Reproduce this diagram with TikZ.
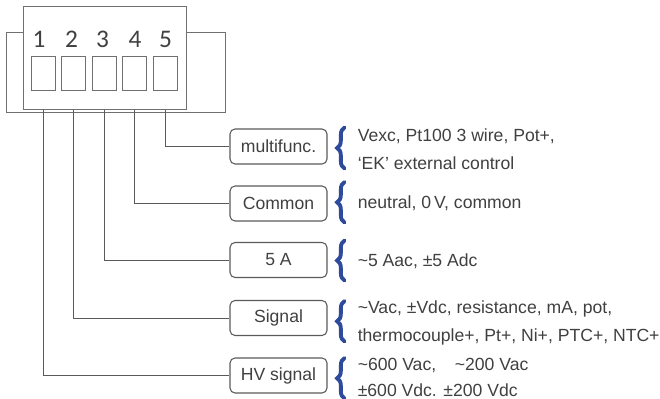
\documentclass[tikz,border=0pt]{standalone}
\usepackage{fontspec}
\setmainfont{Liberation Sans}
\newfontfamily\pinfont{Carlito}
\usetikzlibrary{decorations.pathreplacing}
\definecolor{txt}{HTML}{404040}
\definecolor{edge}{HTML}{5A5A5A}
\definecolor{housing}{HTML}{707070}
\definecolor{bracecol}{HTML}{2E4B9B}
\begin{document}
\begin{tikzpicture}[x=0.75pt,y=-0.75pt,
  lbl/.style={draw=edge, line width=0.8pt, rounded corners=3.75pt,
    minimum width=72.75pt, minimum height=26.25pt, inner sep=0pt,
    font=\fontsize{13.2}{15}\selectfont, text=txt},
  desc/.style={anchor=base west, inner sep=0pt,
    font=\fontsize{13.2}{15}\selectfont, text=txt},
  pin/.style={draw=housing, line width=0.75pt, minimum width=18pt,
    minimum height=25.5pt, inner sep=0pt},
  digit/.style={font=\pinfont\fontsize{19}{21}\selectfont, text=txt, inner sep=0pt},
  wire/.style={draw=edge, line width=0.75pt},
  curly/.style={draw=bracecol, line width=2.9pt, line cap=round, decorate,
    decoration={brace, amplitude=5.5pt, aspect=0.5}}
]
\useasboundingbox (0,0) rectangle (660,399);

% connector housing: mounting flange behind the terminal block
\node (flange) [draw=housing, line width=0.75pt, minimum width=164.6pt,
  minimum height=59.8pt, inner sep=0pt] at (116.25,72.85) {};
\node (body) [draw=housing, fill=white, line width=0.75pt, minimum width=122.25pt,
  minimum height=77.25pt, inner sep=0pt] at (104.5,58.5) {};

% terminal numbers
\node[digit] (n1) at (39,39) {1};
\node[digit] (n2) at (71.5,39) {2};
\node[digit] (n3) at (102.5,39) {3};
\node[digit] (n4) at (135,39) {4};
\node[digit] (n5) at (165.5,39) {5};

% terminal openings
\node[pin] (p1) at (43,74) {};
\node[pin] (p2) at (73,74) {};
\node[pin] (p3) at (104,74) {};
\node[pin] (p4) at (134.5,74) {};
\node[pin] (p5) at (165,74) {};

% function labels
\node[lbl] (mf)  at (278.5,146.5) {multifunc.};
\node[lbl] (com) at (278.5,203.5) {Common};
\node[lbl] (amp) at (278.5,260) {5 A};
\node[lbl] (sig) at (278.5,318) {Signal};
\node[lbl] (hv)  at (278.5,375.5) {HV signal};

% wiring from each terminal to its label
\draw[wire] (p5.south |- body.south) |- (mf.west);
\draw[wire] (p4.south |- body.south) |- (com.west);
\draw[wire] (p3.south |- body.south) |- (amp.west);
\draw[wire] (p2.south |- body.south) |- (sig.west);
\draw[wire] (p1.south |- body.south) |- (hv.west);

% braces
\coordinate (b1a) at (344.5,168.5); \coordinate (b1b) at (344.5,127.5);
\coordinate (b2a) at (344.5,222.5); \coordinate (b2b) at (344.5,182);
\coordinate (b3a) at (344.5,280.5); \coordinate (b3b) at (344.5,240.5);
\coordinate (b4a) at (344.5,341.5); \coordinate (b4b) at (344.5,301);
\coordinate (b5a) at (344.5,398.5); \coordinate (b5b) at (344.5,358);
\draw[curly] (b1a) -- (b1b);
\draw[curly] (b2a) -- (b2b);
\draw[curly] (b3a) -- (b3b);
\draw[curly] (b4a) -- (b4b);
\draw[curly] (b5a) -- (b5b);

% descriptions
\node[desc] (d1a) at (357.5,142) {Vexc, Pt100 3 wire, Pot+,};
\node[desc] (d1b) at (357.5,169.5) {‘EK’ external control};
\node[desc] (d2)  at (357.5,208) {neutral, 0\,V, common};
\node[desc] (d3)  at (357.5,266.5) {\textasciitilde 5 Aac, ±5 Adc};
\node[desc] (d4a) at (357.5,313) {\textasciitilde Vac, ±Vdc, resistance, mA, pot,};
\node[desc] (d4b) at (357.5,341.5) {thermocouple+, Pt+, Ni+, PTC+, NTC+};
\node[desc] (d5a) at (357.5,370.5) {\textasciitilde 600 Vac,\hspace{14pt}\textasciitilde 200 Vac};
\node[desc] (d5b) at (357.5,396.3) {±600 Vdc. ±200 Vdc};
\end{tikzpicture}
\end{document}
